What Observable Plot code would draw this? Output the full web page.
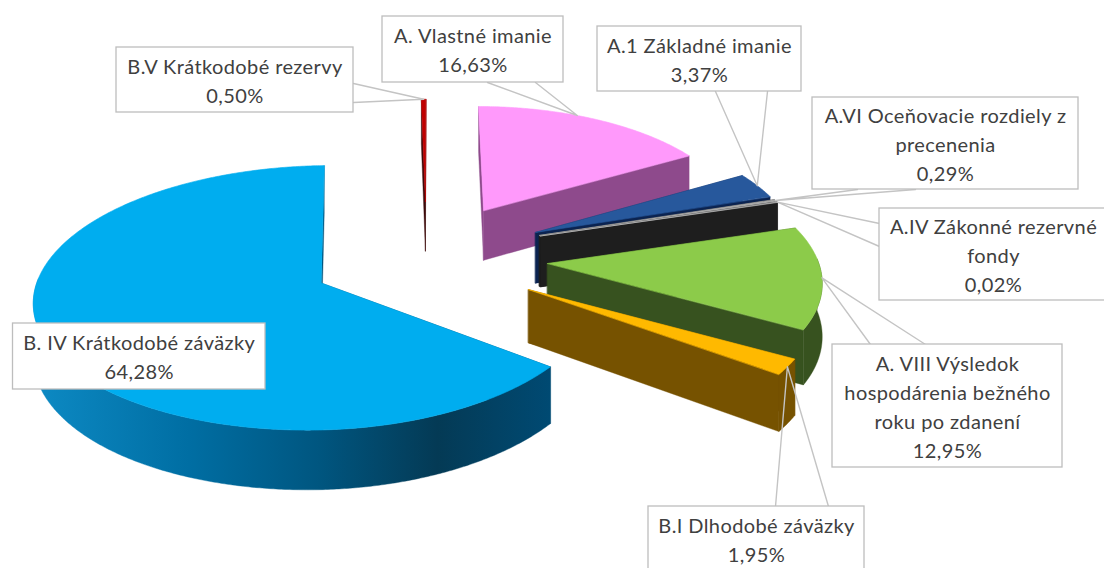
<!DOCTYPE html>
<html><head><meta charset="utf-8">
<script src="https://cdn.jsdelivr.net/npm/d3@7"></script>
<script src="https://cdn.jsdelivr.net/npm/@observablehq/plot@0.6"></script>
<style>html,body{margin:0;padding:0;background:#fff;overflow:hidden}svg{display:block}svg text{letter-spacing:.4px}</style>
</head><body><div id="chart"></div>
<script>
// Data
const names = ["A. Vlastné imanie","A.1 Základné imanie","A.VI Oceňovacie rozdiely z\nprecenenia","A.IV Zákonné rezervné\nfondy","A. VIII Výsledok\nhospodárenia bežného\nroku po zdanení","B.I Dlhodobé záväzky","B. IV Krátkodobé záväzky","B.V Krátkodobé rezervy"];
const shares = [16.63,3.37,0.29,0.02,12.95,1.95,64.28,0.50];

// Slice look: top colour, wall colour
const topColors = ["#ff99fb","#27589c","#a8a8a8","#cccccc","#8ccb4a","#ffb900","#00adef","#c00000"];
const wallColors = ["#8e4a8c","#0b2350","#1e1e1e","#1e1e1e","#37521f","#765200","url(#bigWall)","#3c0a0a"];
// Exploded offset of each slice, and horizontal radius on its right/left side (pie units)
const explodeX = [0.197,0.382,0.395,0.398,0.414,0.339,-0.38,-0.019];
const explodeY = [0.052,-0.135,-0.16,-0.165,-0.388,-0.59,-0.54,0.13];
const radiusRight = [0.94,0.94,0.94,0.94,0.96,0.98,0.96,1];
const radiusLeft = [1,1,1,1,1,1,0.99,0.6];
// Where along its rim each leader line touches the slice
const tipFraction = [0.42,0.5,0.5,0.5,0.5,0.5,0.5,0.5];

// Callout boxes: x1,x2,y1,y2 and leader bases
const boxes = [
 {i:0,x1:382,x2:563,y1:16,y2:82,leg:[[487,82],[535,82]]},
 {i:1,x1:597,x2:801,y1:26,y2:91,leg:[[715,91],[767,91]]},
 {i:2,x1:812,x2:1078,y1:97,y2:189,leg:[[857,189],[915,189]]},
 {i:3,x1:879,x2:1107,y1:208,y2:300,leg:[[879,223],[879,246]]},
 {i:4,x1:832,x2:1062,y1:344,y2:467,leg:[[870,344],[925,344]]},
 {i:5,x1:648,x2:864,y1:506,y2:571,leg:[[775,506],[828,506]]},
 {i:6,x1:12.5,x2:265,y1:323,y2:389,leg:null},
 {i:7,x1:116,x2:353,y1:47,y2:112,leg:[[353,83],[353,102]]}
];

// Perspective projection of the pie
const cx=430, yh=-884, k=0.2464, g=9.6e-5, w0=1100, th=50;
function proj(X,Y,Z){const w=1/(1/w0+g*Y);return {x:cx+k*w*X,y:yh+w+Z*th*w/w0};}

const total=d3.sum(shares);
let c=0;
const slices=shares.map((v,i)=>{const a0=c/total*360;c+=v;const a1=c/total*360;return {i,a0,a1};});
const rim=(s,a)=>{const r=a*Math.PI/180,sn=Math.sin(r);return [explodeX[s.i]+sn*(sn>0?radiusRight[s.i]:radiusLeft[s.i]),explodeY[s.i]+Math.cos(r)];};
function arcAngles(a,b){const n=Math.max(2,Math.ceil((b-a)/0.5));return d3.range(n+1).map(j=>a+(b-a)*j/n);}

const polys=[];
const order=[7,0,1,2,3,4,6,5];
for(const i of order){
 const s=slices[i], ax=explodeX[i], ay=explodeY[i];
 const walls=[];
 for(const a of [s.a0,s.a1]){const [X,Y]=rim(s,a);
  walls.push({d:(Y+ay)/2,pts:[proj(ax,ay,0),proj(X,Y,0),proj(X,Y,1),proj(ax,ay,1)]});}
 const lo=Math.max(s.a0,88), hi=Math.min(s.a1,272);
 if(hi>lo){const as=arcAngles(lo,hi).map(a=>rim(s,a));
  walls.push({d:-9,pts:[...as.map(([X,Y])=>proj(X,Y,0)),...as.slice().reverse().map(([X,Y])=>proj(X,Y,1))]});}
 walls.sort((p,q)=>q.d-p.d);
 for(const w of walls) polys.push({pts:w.pts,fill:wallColors[i],sw:0.4});
 const top=[proj(ax,ay,0),...arcAngles(s.a0,s.a1).map(a=>{const [X,Y]=rim(s,a);return proj(X,Y,0);})];
 polys.push({pts:top,fill:topColors[i],sw:0.6});
}

const leaders=boxes.filter(b=>b.leg).flatMap(b=>{
 const s=slices[b.i],[X,Y]=rim(s,s.a0+(s.a1-s.a0)*tipFraction[b.i]),t=proj(X,Y,0);
 return [[...b.leg[0]],[t.x,t.y],[...b.leg[1]]].map(p=>({b:b.i,x:p[0],y:p[1]}));
});

const labelRows=boxes.map(b=>({x:(b.x1+b.x2)/2,y:(b.y1+b.y2)/2-1,
  text:names[b.i]+"\n"+shares[b.i].toFixed(2).replace(".",",")+"%"}));

const defs=()=>{
 const d=d3.create("svg:defs");
 const lg=d.append("linearGradient").attr("id","bigWall").attr("gradientUnits","userSpaceOnUse")
   .attr("x1",33).attr("x2",551).attr("y1",0).attr("y2",0);
 [[0,"#0d8ac4"],[0.3,"#006ea3"],[0.55,"#005680"],[0.78,"#043a55"],[1,"#004a73"]].forEach(([o,col])=>
   lg.append("stop").attr("offset",o).attr("stop-color",col));
 return d.node();
};

const chart=Plot.plot({
 width:1104,height:568,margin:0,
 x:{domain:[0,1104],range:[0,1104],axis:null},
 y:{domain:[0,568],range:[0,568],axis:null},
 style:{background:"#fff"},
 marks:[
  defs,
  ...polys.map(p=>Plot.line(p.pts,{x:"x",y:"y",curve:"linear-closed",fill:p.fill,stroke:p.fill,strokeWidth:p.sw})),
  Plot.line(leaders,{x:"x",y:"y",z:"b",stroke:"#c4c4c4",strokeWidth:1.4}),
  Plot.rect(boxes,{x1:"x1",x2:"x2",y1:"y1",y2:"y2",fill:"#fff",stroke:"#bdbdbd",strokeWidth:1.3}),
  Plot.text(labelRows,{x:"x",y:"y",text:"text",fontFamily:"Lato",fontSize:20,lineHeight:1.45,fill:"#404040",textAnchor:"middle"})
 ]
});
document.getElementById("chart").append(chart);
</script></body></html>
